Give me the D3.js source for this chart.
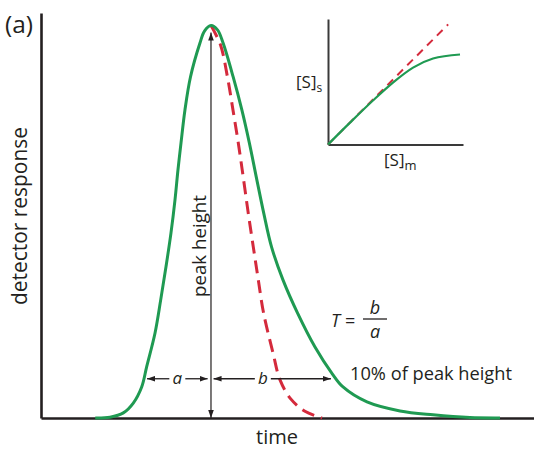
<!DOCTYPE html>
<html>
<head>
<meta charset="utf-8">
<script src="https://cdn.jsdelivr.net/npm/d3@7"></script>
<style>
  html, body { margin: 0; padding: 0; background: #fff; }
  svg { display: block; font-family: "Open Sans", "Noto Sans", sans-serif; }
</style>
</head>
<body>
<svg id="chart" width="534" height="449"></svg>
<script>
// Tailing chromatographic peak (green) against an ideal Gaussian peak (red, dashed)
const tailedTime = [5.5, 7.0, 8.35, 9.36, 10.21, 10.72, 11.56, 12.14, 12.68, 13.18, 13.59, 13.89, 14.2, 14.6, 15.16,
  16.13, 16.58, 17.24, 17.9, 18.46, 19.49, 20.37, 21.13, 21.85, 22.59, 23.38, 24.54, 26.01, 27.79, 29.56,
  30.63, 33.06, 36.41, 39.76, 43.5, 46.55];
const tailedResponse = [0, 0.2, 1.3, 3.8, 7.9, 13.1, 21.6, 30.1, 38.6, 47.1, 55.6, 63.2, 70.1, 78.5, 86.9,
  95.6, 98.6, 100, 98.9, 95.6, 86.9, 78.5, 70.1, 61.2, 52.2, 43.6, 35.2, 26.8, 18.1, 11.2,
  7.9, 4.1, 1.8, 0.8, 0.1, 0];

const gaussTime = [17.24, 18.2, 18.91, 19.47, 20.01, 20.52, 21.02, 21.53, 22.04, 22.57, 23.53, 24.24, 25.35, 26.77, 28.5];
const gaussResponse = [100, 95.1, 86.9, 78.5, 70.1, 61.2, 52.2, 43.6, 35.2, 26.8, 16.6, 9.7, 4.8, 1.7, 0];

// Peak maximum and the half-widths measured at 10% of the peak height
const peakTime = 17.24;
const peakHeight = 100;
const widthLevel = 10;
const halfWidthA = [10.75, 16.9];
const halfWidthB = [17.5, 29.4];

// Inset: [S]s versus [S]m, a curving isotherm and the linear one
const isothermMobile = [0, 0.163, 0.333, 0.481, 0.630, 0.778, 0.978];
const isothermStationary = [0, 0.162, 0.326, 0.459, 0.570, 0.637, 0.667];
const linearMobile = [0, 0.89];
const linearStationary = [0, 0.89];

const GREEN = "#1f9a52";
const RED = "#d42a3c";
const INK = "#231f20";

const svg = d3.select("#chart");

// ---- scales ----
const x = d3.scaleLinear().domain([0, 50]).range([41, 534]);
const y = d3.scaleLinear().domain([0, 103.2]).range([418, 13]);

const ix = d3.scaleLinear().domain([0, 1]).range([328, 463]);
const iy = d3.scaleLinear().domain([0, 0.93]).range([144.5, 19]);

// ---- arrowhead marker ----
const defs = svg.append("defs");
defs.append("marker")
  .attr("id", "head")
  .attr("viewBox", "0 -3 8 6")
  .attr("refX", 8).attr("refY", 0)
  .attr("markerWidth", 8).attr("markerHeight", 6)
  .attr("markerUnits", "userSpaceOnUse")
  .attr("orient", "auto-start-reverse")
  .append("path")
  .attr("d", "M0,-2.8L8,0L0,2.8Z")
  .attr("fill", INK);

// ---- main axes (lines only) ----
const xAxis = svg.append("g")
  .attr("transform", `translate(0,${y(0)})`)
  .call(d3.axisBottom(x).tickValues([]).tickSizeOuter(0));
const yAxis = svg.append("g")
  .attr("transform", `translate(${x(0)},0)`)
  .call(d3.axisLeft(y).tickValues([]).tickSizeOuter(0));
[xAxis, yAxis].forEach(g => g.select(".domain")
  .attr("stroke", INK).attr("stroke-width", 2.6));

// ---- curves ----
const tailed = tailedTime.map((t, i) => [t, tailedResponse[i]]);
const gauss = gaussTime.map((t, i) => [t, gaussResponse[i]]);
const line = d3.line().x(d => x(d[0])).y(d => y(d[1])).curve(d3.curveCatmullRom.alpha(0.5));

svg.append("path")
  .datum(gauss)
  .attr("d", line)
  .attr("fill", "none")
  .attr("stroke", RED)
  .attr("stroke-width", 3)
  .attr("stroke-dasharray", "13,7");

svg.append("path")
  .datum(tailed)
  .attr("d", line)
  .attr("fill", "none")
  .attr("stroke", GREEN)
  .attr("stroke-width", 3)
  .attr("stroke-linejoin", "round");

// ---- peak height arrow ----
svg.append("line")
  .attr("x1", x(peakTime)).attr("x2", x(peakTime))
  .attr("y1", y(0)).attr("y2", y(peakHeight) + 7)
  .attr("stroke", INK).attr("stroke-width", 1.2)
  .attr("marker-start", "url(#head)")
  .attr("marker-end", "url(#head)");

// ---- a and b half-width arrows ----
function widthArrow(range, label, frac) {
  const x0 = x(range[0]), x1 = x(range[1]);
  const yy = y(widthLevel);
  const xm = x0 + (x1 - x0) * frac;
  const gap = 8;
  svg.append("line")
    .attr("x1", xm - gap).attr("x2", x0).attr("y1", yy).attr("y2", yy)
    .attr("stroke", INK).attr("stroke-width", 1.3)
    .attr("marker-end", "url(#head)");
  svg.append("line")
    .attr("x1", xm + gap).attr("x2", x1).attr("y1", yy).attr("y2", yy)
    .attr("stroke", INK).attr("stroke-width", 1.3)
    .attr("marker-end", "url(#head)");
  svg.append("text")
    .attr("x", xm).attr("y", yy + 5.5)
    .attr("text-anchor", "middle")
    .attr("font-size", 17).attr("font-style", "italic")
    .attr("fill", INK)
    .text(label);
}
widthArrow(halfWidthA, "a", 0.5);
widthArrow(halfWidthB, "b", 0.42);

// ---- text helpers ----
function fit(sel, width) {
  const w = sel.node().getComputedTextLength();
  const fs = parseFloat(sel.attr("font-size"));
  sel.attr("font-size", (fs * width / w).toFixed(2));
  return sel;
}

// axis titles
fit(svg.append("text")
  .attr("transform", "translate(27,216) rotate(-90)")
  .attr("text-anchor", "middle")
  .attr("font-size", 18).attr("fill", INK)
  .text("detector response"), 178);

fit(svg.append("text")
  .attr("x", 277).attr("y", 443.5)
  .attr("text-anchor", "middle")
  .attr("font-size", 18).attr("fill", INK)
  .text("time"), 42);

fit(svg.append("text")
  .attr("x", 5).attr("y", 33)
  .attr("font-size", 18).attr("fill", INK)
  .text("(a)"), 28);

fit(svg.append("text")
  .attr("transform", `translate(${x(peakTime) - 5},246) rotate(-90)`)
  .attr("text-anchor", "middle")
  .attr("font-size", 15).attr("fill", INK)
  .text("peak height"), 102);

fit(svg.append("text")
  .attr("x", 350).attr("y", 380)
  .attr("font-size", 17).attr("fill", INK)
  .text("10% of peak height"), 162);

// tailing factor T = b / a
svg.append("text")
  .attr("x", 331).attr("y", 327)
  .attr("font-size", 18).attr("font-style", "italic").attr("fill", INK)
  .text("T");
svg.append("text")
  .attr("x", 345).attr("y", 327)
  .attr("font-size", 18).attr("fill", INK)
  .text("=");
svg.append("line")
  .attr("x1", 363).attr("x2", 387).attr("y1", 319).attr("y2", 319)
  .attr("stroke", INK).attr("stroke-width", 1.3);
svg.append("text")
  .attr("x", 375).attr("y", 314)
  .attr("text-anchor", "middle")
  .attr("font-size", 18).attr("font-style", "italic").attr("fill", INK)
  .text("b");
svg.append("text")
  .attr("x", 375).attr("y", 338)
  .attr("text-anchor", "middle")
  .attr("font-size", 18).attr("font-style", "italic").attr("fill", INK)
  .text("a");

// ---- inset ----
const inset = svg.append("g");
const ixAxis = inset.append("g")
  .attr("transform", `translate(0,${iy(0)})`)
  .call(d3.axisBottom(ix).tickValues([]).tickSizeOuter(0));
const iyAxis = inset.append("g")
  .attr("transform", `translate(${ix(0)},0)`)
  .call(d3.axisLeft(iy).tickValues([]).tickSizeOuter(0));
[ixAxis, iyAxis].forEach(g => g.select(".domain")
  .attr("stroke", "#3a3a3a").attr("stroke-width", 2));

const iline = d3.line().x(d => ix(d[0])).y(d => iy(d[1]));
inset.append("path")
  .datum(linearMobile.map((m, i) => [m, linearStationary[i]]))
  .attr("d", iline)
  .attr("fill", "none")
  .attr("stroke", RED).attr("stroke-width", 2)
  .attr("stroke-dasharray", "8,6");
inset.append("path")
  .datum(isothermMobile.map((m, i) => [m, isothermStationary[i]]))
  .attr("d", iline.curve(d3.curveMonotoneX))
  .attr("fill", "none")
  .attr("stroke", GREEN).attr("stroke-width", 2.2);

const sLabel = inset.append("text")
  .attr("x", 296).attr("y", 88)
  .attr("font-size", 17).attr("fill", INK);
sLabel.append("tspan").text("[S]");
sLabel.append("tspan").attr("font-size", 12).attr("dy", 4).text("s");

const mLabel = inset.append("text")
  .attr("x", 384).attr("y", 166)
  .attr("font-size", 17).attr("fill", INK);
mLabel.append("tspan").text("[S]");
mLabel.append("tspan").attr("font-size", 13).attr("dy", 3.5).text("m");
</script>
</body>
</html>
